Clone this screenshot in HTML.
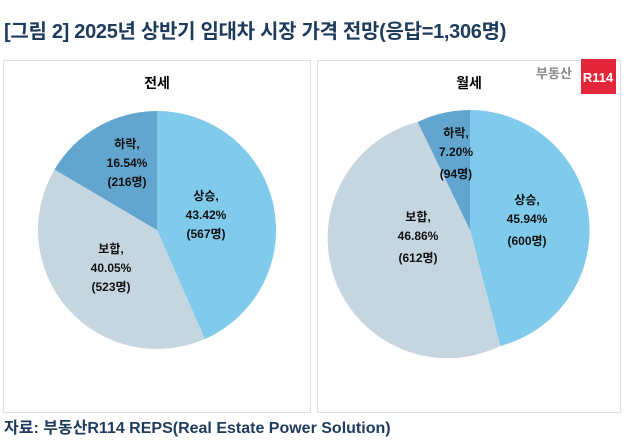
<!DOCTYPE html>
<html><head><meta charset="utf-8"><style>
html,body{margin:0;padding:0;background:#fff;}
body{width:628px;height:442px;position:relative;overflow:hidden;font-family:"Liberation Sans","Noto Sans CJK KR","NanumGothic",sans-serif;}
.title{position:absolute;left:4px;top:15px;font-size:20px;font-weight:bold;color:#1f3b5c;white-space:nowrap;letter-spacing:-0.3px;}
.panel{position:absolute;top:60px;height:351px;border:1px solid #e0e0e0;background:#fff;}
.src{position:absolute;left:4px;top:414px;font-size:16px;font-weight:bold;color:#1f3b5c;white-space:nowrap;}
</style></head><body>
<div class="title">[그림 2] 2025년 상반기 임대차 시장 가격 전망(응답=1,306명)</div>
<div class="panel" style="left:3px;width:306px;"></div>
<div class="panel" style="left:317px;width:302px;"></div>
<svg width="628" height="442" style="position:absolute;left:0;top:0">
<g font-family="Liberation Sans,Noto Sans CJK KR,sans-serif" font-weight="bold" text-anchor="middle">
<text x="157" y="88" font-size="14" fill="#000">전세</text>
<text x="469" y="88" font-size="14" fill="#000">월세</text>
<path d="M157,230 L157,111 A119,119 0 0 1 204.8,339 Z" fill="#80cbec"/>
<path d="M157,230 L204.8,339 A119,119 0 0 1 54.5,169.6 Z" fill="#c6d6e1"/>
<path d="M157,230 L54.5,169.6 A119,119 0 0 1 157,111 Z" fill="#62a6cf"/>
<path d="M470,230 L470,110 A120,120 0 0 1 500.3,346 Z" fill="#80cbec"/>
<path d="M470,230 L500.3,346 A120,120 0 1 1 417.6,122 Z" fill="#c6d6e1"/>
<path d="M470,230 L417.6,122 A120,120 0 0 1 470,110 Z" fill="#62a6cf"/>
<g font-size="12" fill="#111">
<text x="127" y="148">하락,</text><text x="127" y="167">16.54%</text><text x="127" y="186">(216명)</text>
<text x="206" y="200">상승,</text><text x="206" y="219">43.42%</text><text x="206" y="238">(567명)</text>
<text x="111" y="253">보합,</text><text x="111" y="272">40.05%</text><text x="111" y="291">(523명)</text>
<text x="456" y="137">하락,</text><text x="456" y="156">7.20%</text><text x="456" y="178">(94명)</text>
<text x="527" y="204">상승,</text><text x="527" y="223">45.94%</text><text x="527" y="245">(600명)</text>
<text x="418" y="221">보합,</text><text x="418" y="240">46.86%</text><text x="418" y="262">(612명)</text>
</g>
<text x="554" y="78" font-size="13" fill="#888">부동산</text>
<rect x="581" y="59" width="35" height="35" fill="#e3263a"/>
<text x="598" y="82" font-size="13" fill="#fff">R114</text>
</g>
</svg>
<div class="src">자료: 부동산R114 REPS(Real Estate Power Solution)</div>
</body></html>
